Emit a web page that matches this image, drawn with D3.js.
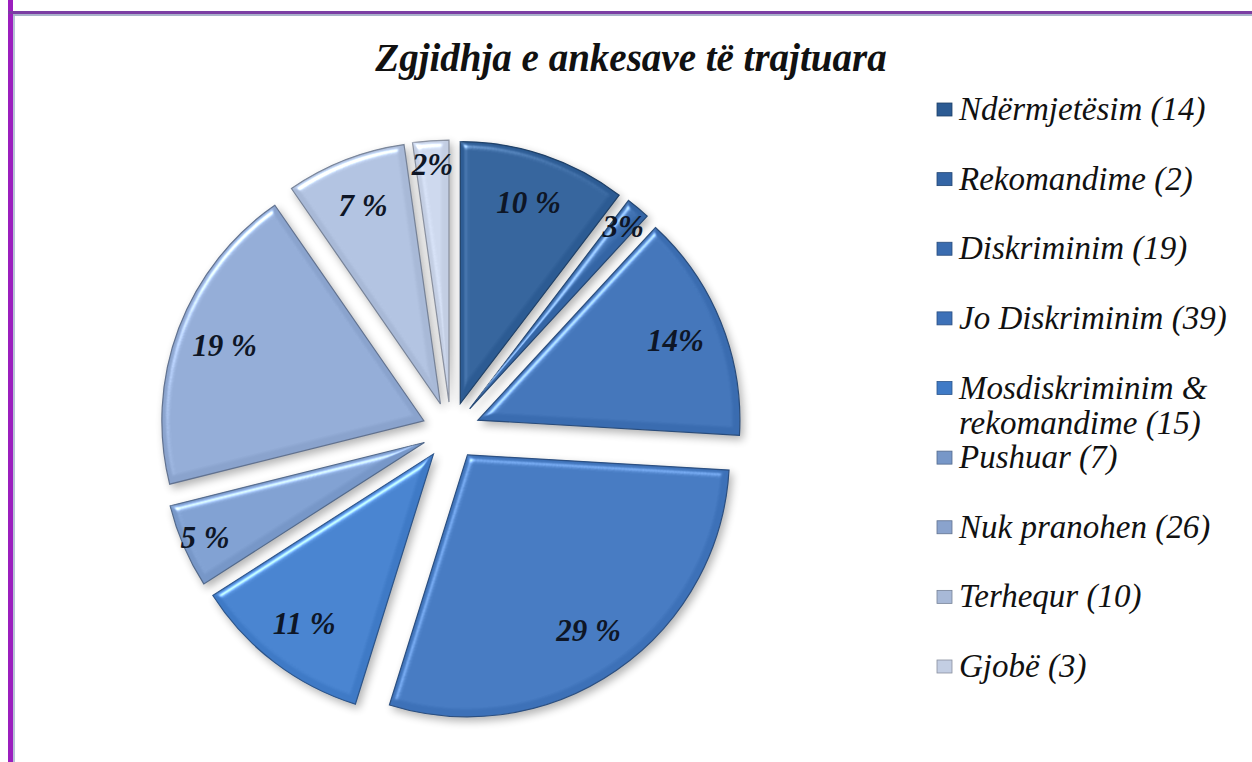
<!DOCTYPE html>
<html>
<head>
<meta charset="utf-8">
<script src="https://cdn.jsdelivr.net/npm/d3@7"></script>
<style>
  html, body { margin: 0; padding: 0; background: #fff; }
  svg { display: block; }
  .serif { font-family: 'Liberation Serif', 'DejaVu Serif', serif; }
</style>
</head>
<body>
<svg id="chart" width="1252" height="762"></svg>
<script>
const categories = ['Ndërmjetësim', 'Rekomandime', 'Diskriminim', 'Jo Diskriminim',
  'Mosdiskriminim &\nrekomandime', 'Pushuar', 'Nuk pranohen', 'Terhequr', 'Gjobë']
const counts = [14, 2, 19, 39, 15, 7, 26, 10, 3]
const pctLabels = ['10 %', '3%', '14%', '29 %', '11 %', '5 %', '19 %', '7 %', '2%']
const colors = ['#2c5b93', '#3465a5', '#3a6cb0', '#3d71b8', '#3f7ac6',
  '#7797c8', '#8aa3cd', '#a8b9d7', '#c3cee3']
const title = 'Zgjidhja e ankesave të trajtuara'

const W = 1252, H = 762
const cx = 451, cy = 431, R = 262, explode = 29

const svg = d3.select('#chart')
const defs = svg.append('defs')

// bevel + soft shadow, roughly like the office "circle" bevel
const f = defs.append('filter').attr('id', 'bevel')
  .attr('color-interpolation-filters', 'sRGB')
  .attr('x', '-20%').attr('y', '-20%').attr('width', '150%').attr('height', '150%')
f.append('feGaussianBlur').attr('in', 'SourceAlpha').attr('stdDeviation', 3.5).attr('result', 'blur')
f.append('feSpecularLighting').attr('in', 'blur').attr('surfaceScale', 4)
  .attr('specularConstant', 0.7).attr('specularExponent', 40)
  .attr('lighting-color', '#ffffff').attr('result', 'spec')
  .append('feDistantLight').attr('azimuth', 235).attr('elevation', 50)
f.append('feComposite').attr('in', 'spec').attr('in2', 'SourceAlpha')
  .attr('operator', 'in').attr('result', 'specIn')
f.append('feComposite').attr('in', 'SourceGraphic').attr('in2', 'specIn')
  .attr('operator', 'arithmetic').attr('k1', 0).attr('k2', 1).attr('k3', 0.75).attr('k4', 0)
  .attr('result', 'lit')
f.append('feGaussianBlur').attr('in', 'SourceAlpha').attr('stdDeviation', 4).attr('result', 'blur2')
f.append('feOffset').attr('in', 'blur2').attr('dx', 3).attr('dy', 4).attr('result', 'off')
f.append('feComponentTransfer').attr('in', 'off').attr('result', 'shadow')
  .append('feFuncA').attr('type', 'linear').attr('slope', 0.3)
const merge = f.append('feMerge')
merge.append('feMergeNode').attr('in', 'shadow')
merge.append('feMergeNode').attr('in', 'lit')

// frame: purple rule on the left and the top
svg.append('rect').attr('x', 8).attr('y', 0).attr('width', 5).attr('height', H).attr('fill', '#9b1fbe')
svg.append('rect').attr('x', 13).attr('y', 14).attr('width', 2).attr('height', H).attr('fill', '#b7c3d6')
svg.append('rect').attr('x', 8).attr('y', 11).attr('width', W).attr('height', 3).attr('fill', '#7b3ea3')
svg.append('rect').attr('x', 13).attr('y', 14).attr('width', W).attr('height', 2).attr('fill', '#a9b2ca')

svg.append('text')
  .attr('class', 'serif')
  .attr('x', 631).attr('y', 71)
  .attr('text-anchor', 'middle')
  .style('font-style', 'italic').style('font-weight', 'bold')
  .style('font-size', '39px')
  .attr('fill', '#111')
  .text(title)

const data = categories.map((c, i) => ({ name: c, count: counts[i], pct: pctLabels[i], color: colors[i] }))
const total = d3.sum(counts)

const pie = d3.pie().sort(null).value(d => d.count)
const arc = d3.arc().innerRadius(0).outerRadius(R)
const arcs = pie(data)

const g = svg.append('g').attr('transform', `translate(${cx},${cy})`)

const mid = a => (a.startAngle + a.endAngle) / 2

g.selectAll('path.slice')
  .data(arcs)
  .enter().append('path')
  .attr('class', 'slice')
  .attr('d', arc)
  .attr('transform', a => `translate(${explode * Math.sin(mid(a))},${-explode * Math.cos(mid(a))})`)
  .attr('fill', a => a.data.color)
  .attr('stroke', a => d3.color(a.data.color).darker(1))
  .attr('stroke-width', 1.2)
  .attr('filter', 'url(#bevel)')

// small slices get their label pushed further out
const labelR = a => (a.data.count / total < 0.06 ? 268 : 242)
g.selectAll('text.pct')
  .data(arcs)
  .enter().append('text')
  .attr('class', 'pct serif')
  .attr('x', a => labelR(a) * Math.sin(mid(a)))
  .attr('y', a => -labelR(a) * Math.cos(mid(a)))
  .attr('dy', '0.35em')
  .attr('text-anchor', 'middle')
  .style('font-style', 'italic').style('font-weight', 'bold')
  .style('font-size', '31px')
  .attr('fill', '#0e1626')
  .text(a => a.data.pct)

// legend
const legend = svg.append('g').attr('transform', 'translate(937,0)')
const ly = d3.scaleLinear().domain([0, data.length - 1]).range([120, 677])

const items = legend.selectAll('g.item')
  .data(data)
  .enter().append('g')
  .attr('class', 'item')
  .attr('transform', (d, i) => `translate(0,${ly(i)})`)

items.append('rect')
  .attr('x', 0).attr('y', -17).attr('width', 15).attr('height', 13)
  .attr('fill', d => d.color)
  .attr('stroke', d => d3.color(d.color).darker(1))
  .attr('stroke-width', 0.8)

items.append('text')
  .attr('class', 'serif')
  .attr('x', 22)
  .style('font-style', 'italic')
  .style('font-size', '33px')
  .attr('fill', '#111')
  .each(function (d) {
    const lines = `${d.name} (${d.count})`.split('\n')
    d3.select(this).selectAll('tspan')
      .data(lines)
      .enter().append('tspan')
      .attr('x', 22)
      .attr('y', (l, j) => j * 35)
      .text(l => l)
  })
</script>
</body>
</html>
